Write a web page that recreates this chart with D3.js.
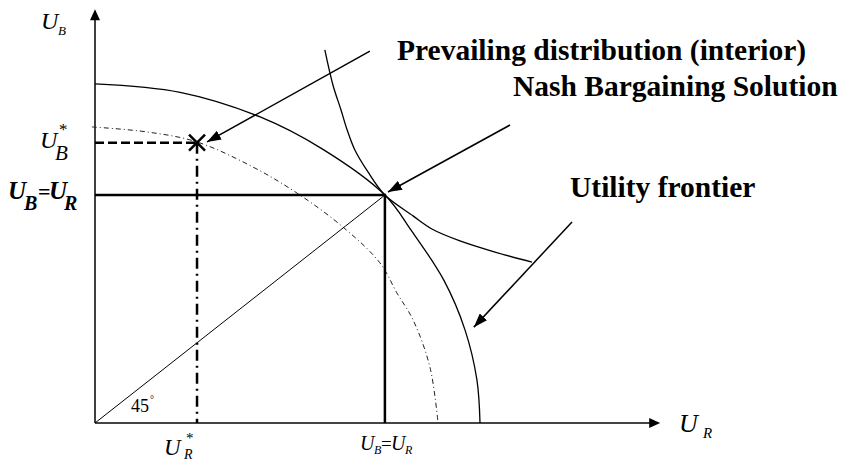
<!DOCTYPE html>
<html>
<head>
<meta charset="utf-8">
<script src="https://cdn.jsdelivr.net/npm/d3@7"></script>
<style>
  body { margin: 0; background: #fff; }
  text { font-family: "Liberation Serif", "Times New Roman", serif; }
</style>
</head>
<body>
<div id="chart"></div>
<script>
// utility units: outer frontier meets the U_R axis at 100
const frontier = [[0, 88.1], [22.1, 85.9], [42.9, 79.5], [59.0, 71.2], [75.3, 59.2], [82.1, 50.1],
    [90.6, 37.1], [96.1, 24.2], [99.2, 11.2], [100, 0]];
const prevailingFrontier = [[-0.8, 76.9], [13.5, 75.6], [26.5, 73.0], [41.0, 66.5], [52.5, 59.7],
    [64.4, 50.9], [74.0, 41.6], [78.4, 33.8], [82.6, 26.8], [87.0, 14.5], [89.1, 0]];
const nashCurve = [[59.7, 96.9], [61.8, 87.8], [63.9, 81.3], [65.5, 76.1], [67.5, 70.9], [70.9, 65.2],
    [75.3, 59.2], [82.6, 53.8], [87.5, 50.4], [94.8, 47.3], [103.9, 44.4], [113.5, 41.8]];
const nashPoint = [75.3, 59.2];
const prevailingPoint = [26.5, 72.8];
const axisMax = [146.8, 107.5];
const arrows = [
    [[71.4, 96.6], [29.1, 73.0]],   // prevailing distribution
    [[107.8, 77.4], [76.1, 60.0]],  // nash bargaining solution
    [[123.9, 52.2], [98.4, 24.9]]   // utility frontier
];
const labels = ["Prevailing distribution (interior)", "Nash Bargaining Solution", "Utility frontier"];

const width = 847, height = 463;

const svg = d3.select("#chart").append("svg")
    .attr("width", width)
    .attr("height", height);

const x = d3.scaleLinear().domain([0, 100]).range([95, 480]);
const y = d3.scaleLinear().domain([0, 100]).range([423, 38]);

const defs = svg.append("defs");
defs.append("marker")
    .attr("id", "head")
    .attr("viewBox", "0 0 14 10")
    .attr("refX", 14).attr("refY", 5)
    .attr("markerWidth", 14).attr("markerHeight", 10)
    .attr("markerUnits", "userSpaceOnUse")
    .attr("orient", "auto")
    .append("path").attr("d", "M0,0L14,5L0,10Z").attr("fill", "#000");

const line = d3.line().x(d => x(d[0])).y(d => y(d[1]));
const smooth = d3.line().x(d => x(d[0])).y(d => y(d[1])).curve(d3.curveCatmullRom.alpha(0.5));

// axes
svg.append("line")
    .attr("x1", x(0)).attr("y1", y(0)).attr("x2", x(0)).attr("y2", y(axisMax[1]) + 9)
    .attr("stroke", "#000").attr("stroke-width", 1.5);
svg.append("path")
    .attr("d", `M${x(0)},${y(axisMax[1])}l-5,11h10z`).attr("fill", "#000");
svg.append("line")
    .attr("x1", x(0)).attr("y1", y(0)).attr("x2", x(axisMax[0]) - 9).attr("y2", y(0))
    .attr("stroke", "#444").attr("stroke-width", 2);
svg.append("path")
    .attr("d", `M${x(axisMax[0])},${y(0)}l-11,-5v10z`).attr("fill", "#000");

// curves
svg.append("path").attr("d", smooth(frontier))
    .attr("fill", "none").attr("stroke", "#000").attr("stroke-width", 1.3);
svg.append("path").attr("d", smooth(prevailingFrontier))
    .attr("fill", "none").attr("stroke", "#222").attr("stroke-width", 1)
    .attr("stroke-dasharray", "5,3,1,3");
svg.append("path").attr("d", smooth(nashCurve))
    .attr("fill", "none").attr("stroke", "#000").attr("stroke-width", 1.3);

// 45 degree line
svg.append("path").attr("d", line([[0, 0], nashPoint]))
    .attr("fill", "none").attr("stroke", "#000").attr("stroke-width", 1);

// nash solution lines
svg.append("path").attr("d", line([[0, nashPoint[1]], nashPoint, [nashPoint[0], 0]]))
    .attr("fill", "none").attr("stroke", "#000").attr("stroke-width", 2.5);

// prevailing point lines
svg.append("path").attr("d", line([[0, prevailingPoint[1]], prevailingPoint]))
    .attr("fill", "none").attr("stroke", "#000").attr("stroke-width", 2.5)
    .attr("stroke-dasharray", "9,4");
svg.append("path").attr("d", line([prevailingPoint, [prevailingPoint[0], 0]]))
    .attr("fill", "none").attr("stroke", "#000").attr("stroke-width", 2.5)
    .attr("stroke-dasharray", "11,5,2,5");

// X marker
const px = x(prevailingPoint[0]), py = y(prevailingPoint[1]);
svg.append("path")
    .attr("d", `M${px - 8},${py - 8}L${px + 8},${py + 8}M${px - 8},${py + 8}L${px + 8},${py - 8}`)
    .attr("stroke", "#000").attr("stroke-width", 2.5);

// arrows
svg.selectAll(".arrow").data(arrows).enter().append("path")
    .attr("class", "arrow")
    .attr("d", d => line(d))
    .attr("stroke", "#000").attr("stroke-width", 1.5)
    .attr("marker-end", "url(#head)");

// annotation labels
const labelPos = [[397, 60], [513, 96], [570, 197]];
svg.selectAll(".lbl").data(labels).enter().append("text")
    .attr("class", "lbl")
    .attr("x", (d, i) => labelPos[i][0]).attr("y", (d, i) => labelPos[i][1])
    .attr("font-size", 29.5).attr("font-weight", "bold")
    .text(d => d);

// math labels
function sym(parts) {
    const g = svg.append("g");
    parts.forEach(p => {
        g.append("text")
            .attr("x", p[1]).attr("y", p[2])
            .attr("font-size", p[3])
            .attr("font-style", p[4] === false ? "normal" : "italic")
            .attr("font-weight", p[5] ? "bold" : "normal")
            .text(p[0]);
    });
}
sym([["U", 41, 29, 24], ["B", 58, 35, 13]]);
sym([["U", 40, 148, 24], ["*", 59, 135, 17, false], ["B", 55, 160, 21]]);
sym([["U", 8, 199, 25, true, true], ["B", 24, 210, 20, true, true], ["=", 38, 199, 22, false, true],
     ["U", 49, 199, 25, true, true], ["R", 64, 210, 20, true, true]]);
sym([["U", 164, 455, 23], ["*", 186, 443, 15, false], ["R", 184, 459, 14]]);
sym([["U", 360, 450, 20], ["B", 374, 454, 12], ["=", 381, 450, 19, false], ["U", 391, 450, 20], ["R", 405, 454, 12]]);
sym([["U", 679, 432, 26], ["R", 703, 438, 15]]);
svg.append("text").attr("x", 131).attr("y", 412).attr("font-size", 18).text("45");
svg.append("text").attr("x", 150).attr("y", 403).attr("font-size", 10).text("°");
</script>
</body>
</html>
